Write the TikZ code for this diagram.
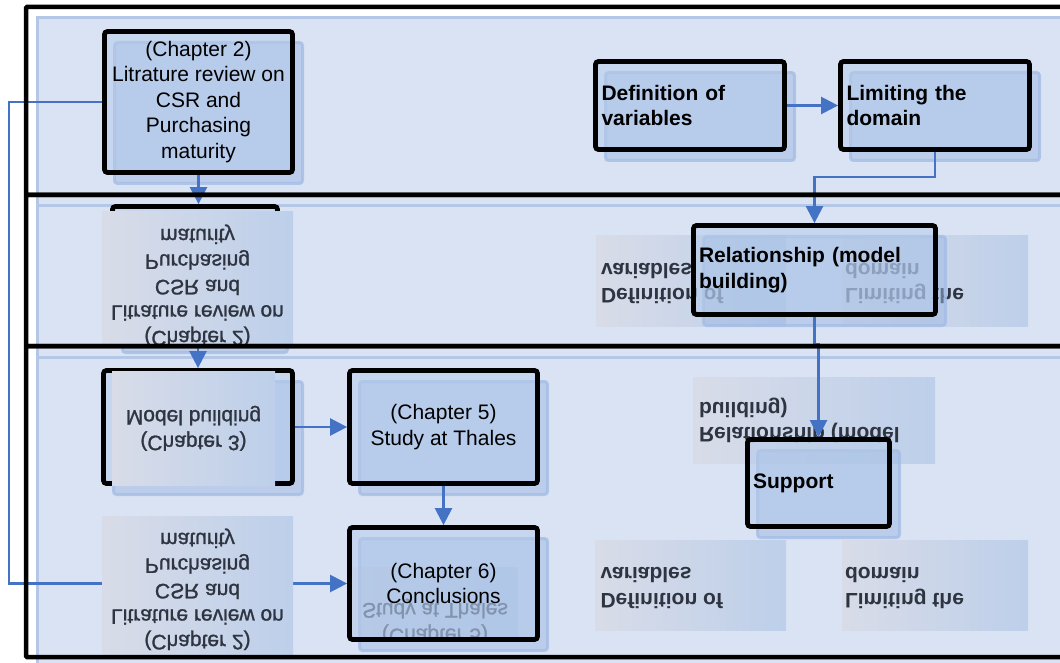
\documentclass[tikz,border=0pt]{standalone}
\usepackage{fontspec}
\setmainfont{Liberation Sans}
\newfontfamily\ghostfamily[FakeBold=1.2]{Liberation Sans}
\usepackage{tikz}
\usetikzlibrary{arrows.meta,positioning,calc,shadows}
\pgfdeclarelayer{bands}
\pgfdeclarelayer{under}
\pgfdeclarelayer{ghosts}
\pgfdeclarelayer{frames}
\pgfsetlayers{bands,under,ghosts,main,frames}

\definecolor{bandfill}{HTML}{DAE3F3}
\definecolor{bandline}{HTML}{B4C7E7}
\definecolor{boxfill}{HTML}{B4CBEA}
\definecolor{shadefill}{HTML}{9DB8E3}
\definecolor{shadeline}{HTML}{A5BDE5}
\definecolor{linkblue}{HTML}{4472C4}
\definecolor{ghostlo}{HTML}{D8DCE8}
\definecolor{ghosthi}{HTML}{BDCFEA}
\definecolor{ghostink}{HTML}{2E3440}

\newcommand{\boxfont}{\fontsize{21}{25.5}\selectfont}
\newcommand{\mirrortext}[2]{\scalebox{1}[-1]{\begin{tabular}{@{}#1@{}}#2\end{tabular}}}

\tikzset{
  stage/.style 2 args={draw=black, line width=4.8pt, rounded corners=3pt,
    fill=boxfill, fill opacity=0.5, text opacity=1, font=\boxfont,
    minimum width=#1, minimum height=#2, inner sep=0pt,
    general shadow={shadow xshift=10pt, shadow yshift=-11pt, fill=shadefill,
      fill opacity=0.5, draw=shadeline, draw opacity=0.8, line width=3pt}},
  chapter/.style 2 args={stage={#1}{#2}, align=center},
  task/.style n args={3}{stage={#1}{#2}, align=left, text width=#3,
    font=\boxfont\bfseries},
  ghost/.style 2 args={left color=ghostlo, right color=ghosthi, draw=none,
    minimum width=#1, minimum height=#2, inner sep=0pt,
    font=\ghostfamily\boxfont, text=ghostink, text opacity=1},
  ghostbold/.style 2 args={ghost={#1}{#2}, font=\boxfont\bfseries},
  link/.style={draw=linkblue, line width=2.5pt,
    -{Triangle[length=17pt,width=17pt]}},
  frame/.style={draw=black, line width=4.5pt, rounded corners=1pt},
}

\begin{document}
\begin{tikzpicture}[x=1pt,y=-1pt]
  \useasboundingbox (0,0) rectangle (1060,663);

  % Bands
  \begin{pgfonlayer}{bands}
    \fill[white] (0,0) rectangle (1060,663);
    \foreach \ya/\yb in {7/195,195/346,346/657}
      \draw[bandline, line width=3pt, fill=bandfill] (37,\ya+11) rectangle (1075,\yb+11);
  \end{pgfonlayer}

  % Boxes
  \node[chapter={188pt}{141pt}] (litrev) at (198.5,102)
    {(Chapter 2)\\Litrature review on\\CSR and\\Purchasing\\maturity};
  \node[chapter={189pt}{113pt}] (model) at (198,427) {};
  \node[chapter={188pt}{113pt}] (thales) at (443.5,427) {(Chapter 5)\\Study at Thales};
  \node[chapter={188pt}{112pt}] (concl) at (443.5,583.5) {(Chapter 6)\\Conclusions};
  \node[ghost={163pt}{114pt}] (mirmod) at (193.5,428)
    {\mirrortext{c}{(Chapter 3)\\Model building}};

  \node[task={189pt}{88pt}{177pt}] (defvar) at (690,105.5) {Definition of\\variables};
  \node[task={189pt}{88pt}{177pt}] (limdom) at (935,105.5) {Limiting the\\domain};
  \node[task={242pt}{89pt}{231pt}] (relat) at (814.5,270) {Relationship (model\\building)};
  \node[task={142pt}{87pt}{131pt}] (support) at (818.5,483) {Support};

  \begin{pgfonlayer}{under}
    \node[stage={165pt}{135pt}] (litcopy) at (195,274) {};
    \draw[link] (model.north |- litcopy.south) -- (model.north);
    \draw[link] (litrev.west) -- ++(-93,0) |- (concl.west);
  \end{pgfonlayer}

  % Mirrored copies
  \begin{pgfonlayer}{ghosts}
    \begin{scope}
      \clip (26,195) rectangle (1060,346);
      \node[ghost={191pt}{146pt}] (mirlit) at (197.5,285)
        {\mirrortext{c}{(Chapter 2)\\Litrature review on\\CSR and\\Purchasing\\maturity}};
      \node[ghostbold={190pt}{90pt}] (mirdef) at (691,281)
        {\mirrortext{p{180pt}}{Definition of\\variables}};
      \node[ghostbold={186pt}{90pt}] (mirlim) at (935,281)
        {\mirrortext{p{180pt}}{Limiting the\\domain}};
    \end{scope}
    \begin{scope}
      \clip (26,346) rectangle (1060,657);
      \node[ghost={191pt}{146pt}] (mirlitb) at (197.5,589)
        {\mirrortext{c}{(Chapter 2)\\Litrature review on\\CSR and\\Purchasing\\maturity}};
      \node[ghostbold={242pt}{86pt}] (mirrel) at (814,420)
        {\mirrortext{p{230pt}}{Relationship (model\\building)}};
      \node[ghostbold={191pt}{90pt}] (mirdefb) at (690.5,585.5)
        {\mirrortext{p{180pt}}{Definition of\\variables}};
      \node[ghostbold={186pt}{90pt}] (mirlimb) at (935,585.5)
        {\mirrortext{p{180pt}}{Limiting the\\domain}};
      \begin{scope}
        \clip (352,567) rectangle (518,640);
        \node[ghost={166pt}{108pt}, text=black] (mirtha) at (435,621)
          {\mirrortext{c}{(Chapter 5)\\Study at Thales}};
      \end{scope}
    \end{scope}
  \end{pgfonlayer}

  % Links
  \draw[link] (litrev.south) -- (litrev.south |- litcopy.north);
  \draw[link] (model.east) -- (thales.west);
  \draw[link] (thales.south) -- (concl.north);
  \draw[link] (defvar.east) -- (limdom.west);
  \draw[link] (limdom.south) -- ++(0,25) -| (relat.north);
  \draw[link] (relat.south) -- ++(0,27) -| (support.north);

  % Frames
  \begin{pgfonlayer}{frames}
    \foreach \ya/\yb in {7/195,195/346,346/657}
      \draw[frame] (26,\ya) rectangle (1085,\yb);
  \end{pgfonlayer}
\end{tikzpicture}
\end{document}
